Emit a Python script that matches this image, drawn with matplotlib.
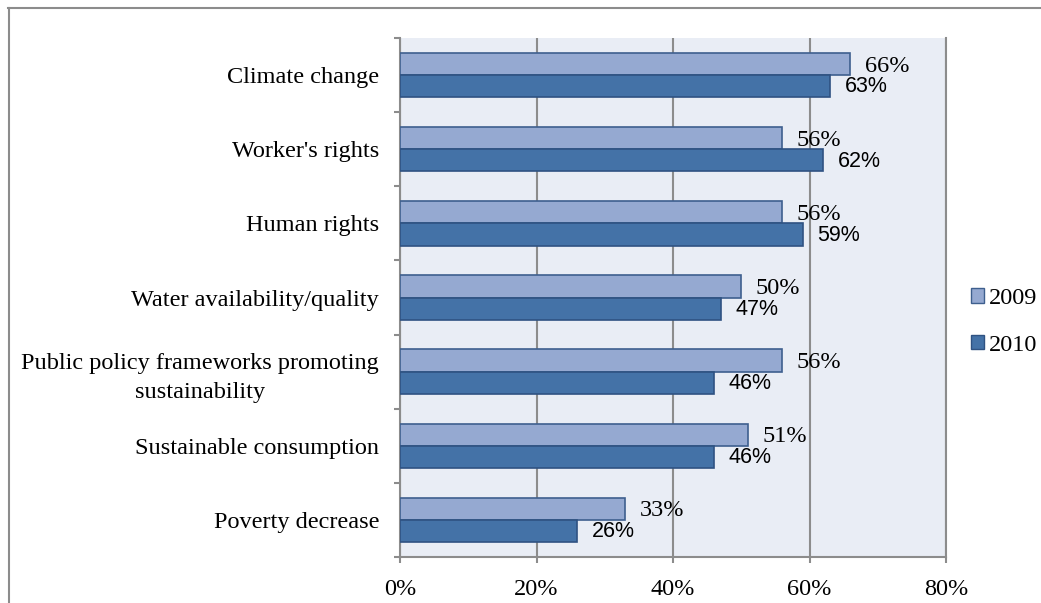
import matplotlib
matplotlib.use("Agg")
import matplotlib.pyplot as plt
import numpy as np
from matplotlib.patches import Patch
from matplotlib.lines import Line2D

categories = ["Climate change", "Worker's rights", "Human rights",
              "Water availability/quality",
              "Public policy frameworks promoting\nsustainability",
              "Sustainable consumption", "Poverty decrease"]
values_2009 = [66, 56, 56, 50, 56, 51, 33]
values_2010 = [63, 62, 59, 47, 46, 46, 26]
series_names = ["2009", "2010"]
xticks = [0, 20, 40, 60, 80]

c09, e09 = "#95A9D1", "#3E5F8E"
c10, e10 = "#4472A7", "#2F5282"
grid_c = "#8C8C8C"
serif = "Liberation Serif"
fs = 17.5

fig = plt.figure(figsize=(10.41, 6.03), dpi=100)
ax = fig.add_axes([400/1041, 1-557/603, 546/1041, 519/603])
ax.set_facecolor("#E9EDF5")

y = np.arange(len(categories))
h = 0.3
ax.barh(y - h/2, values_2009, height=h, color=c09, edgecolor=e09, linewidth=1.2, zorder=3)
ax.barh(y + h/2, values_2010, height=h, color=c10, edgecolor=e10, linewidth=1.2, zorder=3)

for yi, v in zip(y, values_2009):
    ax.annotate(f"{v}%", (v, yi - h/2), xytext=(10.5, -1.5), textcoords="offset points",
                ha="left", va="center", fontsize=fs, family=serif, zorder=4)
for yi, v in zip(y, values_2010):
    ax.annotate(f"{v}%", (v, yi + h/2), xytext=(10.5, -0.5), textcoords="offset points",
                ha="left", va="center", fontsize=15.5, family="Liberation Sans", zorder=4)

ax.set_xlim(0, 80)
ax.set_ylim(len(categories) - 0.5, -0.5)
ax.set_xticks(xticks)
ax.set_xticklabels([f"{t}%" for t in xticks], family=serif, fontsize=fs)
ax.set_yticks(y)
ax.set_yticklabels(categories, family=serif, fontsize=fs)
for lab in ax.get_yticklabels():
    lab.set_multialignment("center")
    lab.set_linespacing(1.5)
ax.set_yticks(np.arange(-0.5, len(categories), 1), minor=True)
ax.tick_params(axis="y", which="major", length=0, pad=15)
ax.tick_params(axis="y", which="minor", length=4.5, width=1.5, color=grid_c, direction="out")
ax.tick_params(axis="x", length=4.5, width=1.5, color=grid_c, direction="out", pad=11)

ax.grid(axis="x", color=grid_c, linewidth=1.5, zorder=1)
ax.set_axisbelow(True)
ax.spines["top"].set_visible(False)
for s in ["left", "bottom", "right"]:
    ax.spines[s].set_color(grid_c)
    ax.spines[s].set_linewidth(1.5)

handles = [Patch(facecolor=c09, edgecolor=e09, linewidth=1.0),
           Patch(facecolor=c10, edgecolor=e10, linewidth=1.0)]
fig.legend(handles, series_names, loc="center left",
           bbox_to_anchor=(971/1041, 1-322/603), frameon=False,
           prop={"family": serif, "size": fs},
           handlelength=0.55, handleheight=0.55, handletextpad=0.2,
           labelspacing=1.05, borderaxespad=0, borderpad=0)

# outer chart border (top and left visible)
fig.add_artist(Line2D([8/1041, 1], [1-8/603, 1-8/603], transform=fig.transFigure,
                      color="#8C8C8C", linewidth=1.5))
fig.add_artist(Line2D([8.5/1041, 8.5/1041], [0, 1-8/603], transform=fig.transFigure,
                      color="#8C8C8C", linewidth=1.5))

fig.savefig("out.png", dpi=100, facecolor="white")
